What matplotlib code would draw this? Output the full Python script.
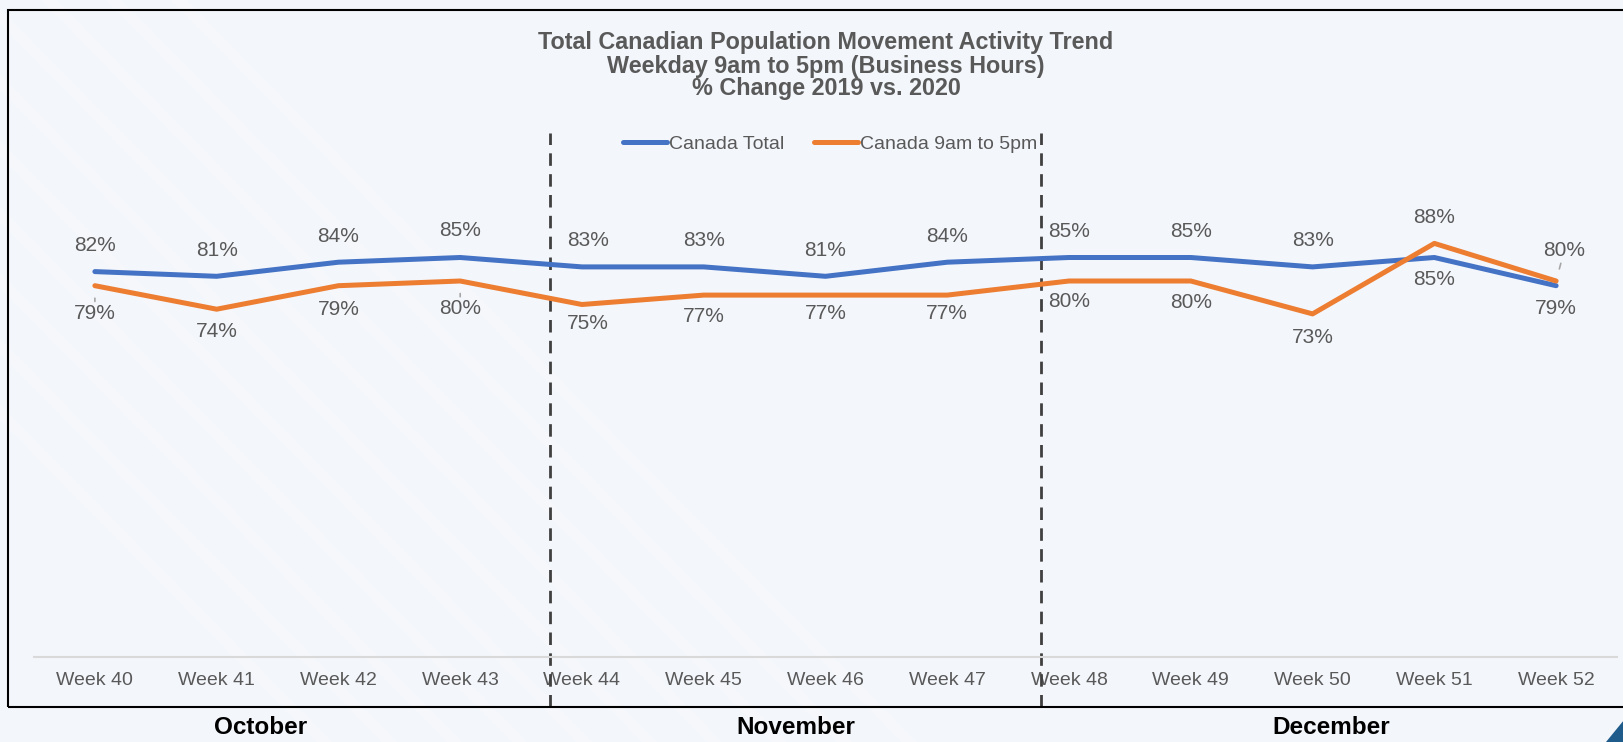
import matplotlib.pyplot as plt
from matplotlib.patches import Rectangle, Polygon
from matplotlib.lines import Line2D

plt.rcParams['font.family'] = ['Liberation Sans', 'DejaVu Sans']

weeks = ['Week 40', 'Week 41', 'Week 42', 'Week 43', 'Week 44', 'Week 45', 'Week 46',
         'Week 47', 'Week 48', 'Week 49', 'Week 50', 'Week 51', 'Week 52']
canada_total = [82, 81, 84, 85, 83, 83, 81, 84, 85, 85, 83, 85, 79]
canada_9to5 = [79, 74, 79, 80, 75, 77, 77, 77, 80, 80, 73, 88, 80]
months = ['October', 'November', 'December']

# label offsets in pixels (x, y) relative to each point
total_off_y = [26, 26, 26, 27, 26, 26, 26, 26, 26, 26, 26, -22, -23]
total_off_x = [0, 0, 0, 0, 6, 0, 0, 0, 0, 0, 0, 0, 0]
nine_off_y = [-28, -22, -24, -28, -19, -21, -18, -18, -21, -22, -24, 26, 30]
nine_off_x = [0, 0, 0, 0, 6, 0, 0, 0, 0, 0, 0, 0, 8]
leaders = [0, 3, 12]

W, H = 1624, 742
bg = '#F3F6FB'
grey = '#595959'
blue = '#4472C4'
orange = '#ED7D31'

fig = plt.figure(figsize=(W / 100, H / 100), dpi=100, facecolor=bg)

# very faint diagonal streaks in the backdrop
for i in range(10):
    x0 = -0.25 + i * 0.04
    fig.add_artist(Line2D([x0, x0 + 0.45], [1.0, 0.0], transform=fig.transFigure,
                          color='white', lw=8, alpha=0.18, zorder=0))

ax = fig.add_axes([34 / W, 85 / H, 1583 / W, 470 / H])
ax.patch.set_visible(False)
ax.set_xlim(-0.5, 12.5)
ax.set_ylim(0, 100)

x = list(range(len(weeks)))
ax.plot(x, canada_total, color=blue, lw=3.6, solid_capstyle='round', solid_joinstyle='round',
        label='Canada Total', zorder=3)
ax.plot(x, canada_9to5, color=orange, lw=3.6, solid_capstyle='round', solid_joinstyle='round',
        label='Canada 9am to 5pm', zorder=3)

for i in x:
    ax.annotate(f'{canada_total[i]}%', (i, canada_total[i]),
                xytext=(total_off_x[i], total_off_y[i]), textcoords='offset pixels',
                ha='center', va='center', fontsize=15, color=grey, annotation_clip=False)
    props = None
    if i in leaders:
        props = dict(arrowstyle='-', color='#A6A6A6', lw=1.2, shrinkA=0, shrinkB=9)
    ax.annotate(f'{canada_9to5[i]}%', (i, canada_9to5[i]),
                xytext=(nine_off_x[i], nine_off_y[i]), textcoords='offset pixels',
                ha='center', va='center', fontsize=15, color=grey, annotation_clip=False,
                arrowprops=props)

# month separators
for sep in [3.74, 7.77]:
    ax.axvline(sep, ymin=-0.106, ymax=1.115, clip_on=False, color='#404040', lw=2,
               linestyle=(0, (4.5, 3)), zorder=2)

for s in ['top', 'right', 'left']:
    ax.spines[s].set_visible(False)
ax.spines['bottom'].set_color('#D9D9D9')
ax.spines['bottom'].set_linewidth(1.5)
ax.set_yticks([])
ax.set_xticks(x)
ax.set_xticklabels(weeks, fontsize=14, color=grey)
ax.tick_params(axis='x', length=0, pad=11)

ax.legend(loc='center', bbox_to_anchor=(830 / W, (H - 144) / H), bbox_transform=fig.transFigure,
          ncol=2, frameon=False, fontsize=14, labelcolor=grey, handlelength=2.3,
          handletextpad=0.1, columnspacing=1.5)

titles = ['Total Canadian Population Movement Activity Trend',
          'Weekday 9am to 5pm (Business Hours)',
          '% Change 2019 vs. 2020']
for t, yy in zip(titles, [43, 66, 89]):
    fig.text(826 / W, (H - yy) / H, t, ha='center', va='center', fontsize=16.8,
             fontweight='bold', color=grey)

for m, xx in zip(months, [261, 796, 1331]):
    fig.text(xx / W, (H - 728) / H, m, ha='center', va='center', fontsize=17.5,
             fontweight='bold', color='black')

# outer frame and corner accent
fig.add_artist(Rectangle((8 / W, 35 / H), 1.2, 697.5 / H, transform=fig.transFigure,
                         fill=False, ec='black', lw=1.5))
fig.add_artist(Polygon([(1.0, 22 / H), (1.0, 0.0), (1606 / W, 0.0)],
                       closed=True, transform=fig.transFigure, fc='#1F5C8B', ec='none'))

fig.savefig('out.png', dpi=100, facecolor=fig.get_facecolor())
